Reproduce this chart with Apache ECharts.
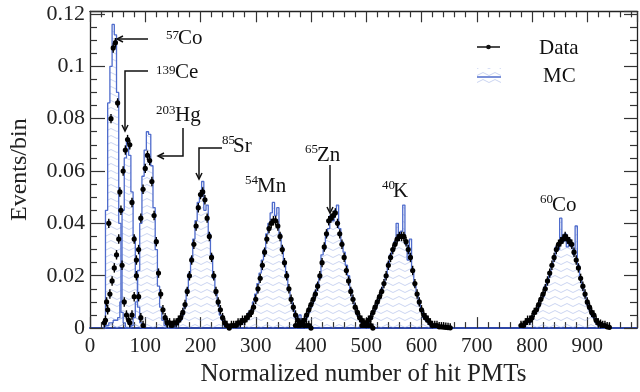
<!DOCTYPE html>
<html><head><meta charset="utf-8">
<script src="https://cdn.jsdelivr.net/npm/echarts@6/dist/echarts.min.js"></script>
<style>html,body{margin:0;padding:0;background:#fff}#c{width:640px;height:392px}</style>
</head><body><div id="c"></div>
<script>
// ---------- data (bin centers, Data and MC values per source) ----------
const xCo57 = [26,30,34,38,42,46,50,54,58,62,66,70];
const dataCo57 = [0.002,0.010,0.040,0.080,0.107,0.109,0.086,0.052,0.024,0.010,0.005,0.003];
const mcCo57   = [0.000,0.045,0.086,0.100,0.116,0.112,0.090,0.040,0.006,0.002,0.000,0.000];

const xCe139 = [28,32,36,40,44,48,52,56,60,64,68,72,76,80,84,88,92,96];
const dataCe139 = [0.003,0.007,0.013,0.018,0.023,0.028,0.034,0.045,0.060,0.068,0.072,0.070,0.048,0.034,0.026,0.012,0.004,0.001];
const mcCe139   = [0.001,0.001,0.002,0.002,0.003,0.003,0.004,0.010,0.045,0.065,0.072,0.066,0.052,0.035,0.020,0.008,0.002,0.000];

const xHg203 = [72,76,80,84,88,92,96,100,104,108,112,116,120,124,128,132,136,140];
const dataHg203 = [0.002,0.005,0.012,0.020,0.030,0.042,0.053,0.061,0.066,0.064,0.056,0.043,0.033,0.021,0.013,0.007,0.004,0.002];
const mcHg203   = [0.000,0.001,0.004,0.010,0.022,0.040,0.058,0.068,0.075,0.074,0.062,0.046,0.030,0.016,0.008,0.003,0.001,0.000];

const xSr85 = [140,144,148,152,156,160,164,168,172,176,180,184,188,192,196,200,204,208,212,216,220,224,228,232,236,240,244,248,252];
const dataSr85 = [0.002,0.002,0.001,0.002,0.002,0.003,0.004,0.006,0.009,0.014,0.020,0.026,0.032,0.039,0.046,0.051,0.052,0.049,0.042,0.035,0.027,0.020,0.014,0.010,0.007,0.004,0.002,0.001,0.000];
const mcSr85   = [0.000,0.000,0.000,0.000,0.001,0.002,0.003,0.005,0.008,0.015,0.021,0.027,0.034,0.041,0.048,0.050,0.056,0.045,0.047,0.036,0.028,0.019,0.013,0.009,0.005,0.003,0.001,0.000,0.000];

const xMn54 = [256,260,264,268,272,276,280,284,288,292,296,300,304,308,312,316,320,324,328,332,336,340,344,348,352,356,360,364,368,372,376,380,384,388,392,396,400];
const dataMn54 = [0.001,0.001,0.001,0.002,0.002,0.003,0.003,0.004,0.005,0.006,0.008,0.011,0.015,0.019,0.024,0.029,0.034,0.038,0.040,0.041,0.041,0.039,0.035,0.030,0.025,0.020,0.015,0.011,0.008,0.005,0.003,0.002,0.002,0.001,0.001,0.001,0.000];
const mcMn54   = [0.000,0.000,0.001,0.001,0.002,0.002,0.003,0.004,0.006,0.007,0.010,0.013,0.017,0.021,0.026,0.030,0.036,0.040,0.044,0.048,0.043,0.046,0.036,0.031,0.025,0.021,0.015,0.011,0.007,0.004,0.003,0.005,0.001,0.001,0.000,0.000,0.000];

const xZn65 = [372,376,380,384,388,392,396,400,404,408,412,416,420,424,428,432,436,440,444,448,452,456,460,464,468,472,476,480,484,488,492,496,500,504,508,512];
const dataZn65 = [0.001,0.001,0.001,0.002,0.003,0.005,0.007,0.009,0.011,0.013,0.016,0.020,0.025,0.031,0.036,0.041,0.042,0.043,0.044,0.040,0.036,0.032,0.027,0.022,0.018,0.014,0.011,0.008,0.006,0.004,0.003,0.002,0.001,0.001,0.001,0.000];
const mcZn65   = [0.000,0.001,0.001,0.002,0.003,0.004,0.006,0.008,0.010,0.014,0.017,0.019,0.028,0.030,0.035,0.038,0.043,0.041,0.045,0.047,0.038,0.033,0.029,0.024,0.020,0.015,0.011,0.008,0.005,0.004,0.002,0.001,0.001,0.000,0.000,0.000];

const xK40 = [492,496,500,504,508,512,516,520,524,528,532,536,540,544,548,552,556,560,564,568,572,576,580,584,588,592,596,600,604,608,612,616,620,624,628,632,636,640,644,648,652];
const dataK40 = [0.001,0.001,0.002,0.003,0.004,0.006,0.008,0.010,0.012,0.014,0.017,0.020,0.024,0.027,0.030,0.032,0.034,0.035,0.035,0.035,0.033,0.030,0.027,0.022,0.017,0.013,0.010,0.007,0.005,0.004,0.003,0.002,0.001,0.001,0.001,0.0005,0.0005,0.0004,0.0003,0.0002,0.0001];
const mcK40   = [0.000,0.000,0.001,0.002,0.004,0.006,0.007,0.010,0.012,0.015,0.017,0.020,0.025,0.028,0.030,0.033,0.040,0.035,0.037,0.047,0.032,0.026,0.034,0.022,0.016,0.013,0.009,0.007,0.004,0.003,0.002,0.001,0.001,0.000,0.000,0.000,0.000,0.000,0.000,0.000,0.000];

const xCo60 = [780,784,788,792,796,800,804,808,812,816,820,824,828,832,836,840,844,848,852,856,860,864,868,872,876,880,884,888,892,896,900,904,908,912,916,920,924,928,932,936,940];
const dataCo60 = [0.001,0.001,0.002,0.003,0.003,0.004,0.006,0.007,0.009,0.011,0.013,0.015,0.018,0.021,0.024,0.027,0.030,0.032,0.033,0.034,0.035,0.034,0.033,0.032,0.029,0.026,0.023,0.019,0.016,0.013,0.010,0.008,0.006,0.005,0.003,0.002,0.0015,0.001,0.001,0.0005,0.0003];
const mcCo60   = [0.000,0.001,0.002,0.003,0.002,0.004,0.006,0.007,0.008,0.011,0.012,0.016,0.018,0.020,0.024,0.026,0.031,0.030,0.042,0.033,0.036,0.031,0.034,0.031,0.028,0.039,0.024,0.019,0.015,0.012,0.009,0.007,0.005,0.004,0.002,0.001,0.001,0.000,0.000,0.000,0.000];

const binWidth = 4;
const dataErr = 0.0018;
const xTicks = [0,100,200,300,400,500,600,700,800,900];
const yTicks = [0,0.02,0.04,0.06,0.08,0.1,0.12];

const sources = [
  {x:xCo57, d:dataCo57, m:mcCo57},
  {x:xCe139, d:dataCe139, m:mcCe139},
  {x:xHg203, d:dataHg203, m:mcHg203},
  {x:xSr85, d:dataSr85, m:mcSr85},
  {x:xMn54, d:dataMn54, m:mcMn54},
  {x:xZn65, d:dataZn65, m:mcZn65},
  {x:xK40, d:dataK40, m:mcK40},
  {x:xCo60, d:dataCo60, m:mcCo60}
];

// ---------- styling helpers ----------
const FONT = '"Liberation Serif", "Times New Roman", serif';
const BLUE = '#4f6ccc';
const pc = document.createElement('canvas');
pc.width = 12; pc.height = 7;
(function(){
  const ctx = pc.getContext('2d');
  ctx.strokeStyle = 'rgba(140,160,225,0.45)';
  ctx.lineWidth = 1;
  ctx.beginPath();
  ctx.moveTo(0,4); ctx.quadraticCurveTo(3,1,6,4); ctx.quadraticCurveTo(9,7,12,4);
  ctx.stroke();
})();
const hatch = {image: pc, repeat: 'repeat'};

function stepPts(xs, ys){
  const w = binWidth/2;
  const pts = [[xs[0]-w, 0]];
  xs.forEach((x,i)=>{ pts.push([x-w, ys[i]]); pts.push([x+w, ys[i]]); });
  pts.push([xs[xs.length-1]+w, 0]);
  return pts;
}

const mcSeries = sources.map(s => ({
  type:'line', data: stepPts(s.x, s.m), symbol:'none', silent:true,
  lineStyle:{color:BLUE, width:1.3}, areaStyle:{color:hatch, opacity:1}, z:2
}));

const allData = [];
sources.forEach(s => s.x.forEach((x,i) => allData.push([x, s.d[i]])));

const dataSeries = {
  type:'custom', data: allData, z:5, silent:true,
  renderItem: function(params, api){
    const x = api.value(0), y = api.value(1);
    const p = api.coord([x,y]);
    const pt = api.coord([x, y+dataErr]);
    const pb = api.coord([x, Math.max(0, y-dataErr)]);
    const pl = api.coord([x-2.2, y]);
    const pr = api.coord([x+2.2, y]);
    return {type:'group', children:[
      {type:'line', shape:{x1:p[0],y1:pt[1],x2:p[0],y2:pb[1]}, style:{stroke:'#000',lineWidth:1.4}},
      {type:'line', shape:{x1:pl[0],y1:p[1],x2:pr[0],y2:p[1]}, style:{stroke:'#000',lineWidth:1.4}},
      {type:'circle', shape:{cx:p[0],cy:p[1],r:2.6}, style:{fill:'#000'}}
    ]};
  }
};

const tickStyle = {color:'#333', width:1.2};
function xAx(pos, labels){
  return {
    type:'value', min:0, max:990, interval:100, position:pos,
    axisLine:{show:true, onZero:false, lineStyle: pos==='bottom' ? {color:'#2f47a8', width:2} : {color:'#222', width:1.3}},
    axisTick:{show:true, inside:true, length:11, lineStyle:tickStyle},
    minorTick:{show:true, splitNumber:5, length:6, lineStyle:tickStyle},
    splitLine:{show:false}, minorSplitLine:{show:false},
    axisLabel:{show:labels, fontFamily:FONT, fontSize:21, color:'#222', margin:8,
      formatter: v => xTicks.includes(v) ? String(v) : ''},
    name: labels ? 'Normalized number of hit PMTs' : '',
    nameLocation:'middle', nameGap:30,
    nameTextStyle:{fontFamily:FONT, fontSize:25, color:'#222'}
  };
}
function yAx(pos, labels){
  return {
    type:'value', min:0, max:0.121, interval:0.02, position:pos,
    axisLine:{show:true, onZero:false, lineStyle:{color:'#222', width:1.3}},
    axisTick:{show:true, inside:true, length: pos==='left' ? 15 : 13, lineStyle:tickStyle},
    minorTick:{show:true, splitNumber:4, length:7, lineStyle:tickStyle},
    splitLine:{show:false}, minorSplitLine:{show:false},
    axisLabel:{show:labels, fontFamily:FONT, fontSize:22, color:'#222', margin:5,
      formatter: v => { const r = +v.toFixed(3); return yTicks.includes(r) ? String(r) : ''; }},
    name: labels ? 'Events/bin' : '',
    nameLocation:'middle', nameGap:58, nameRotate:90,
    nameTextStyle:{fontFamily:FONT, fontSize:24, color:'#222'}
  };
}

// ---------- annotations ----------
const labels = [
  {sup:'57', main:'Co', sx:166, sy:36, mx:178, my:45},
  {sup:'139', main:'Ce', sx:156, sy:71, mx:175, my:79},
  {sup:'203', main:'Hg', sx:156, sy:111, mx:175, my:122},
  {sup:'85', main:'Sr', sx:222, sy:141, mx:233, my:153},
  {sup:'54', main:'Mn', sx:245, sy:181, mx:257, my:193},
  {sup:'65', main:'Zn', sx:305, sy:150, mx:317, my:162},
  {sup:'40', main:'K', sx:382, sy:186, mx:393, my:198},
  {sup:'60', main:'Co', sx:540, sy:200, mx:552, my:212}
];
const graphics = [];
labels.forEach(l => {
  graphics.push({type:'text', left:l.sx, top:l.sy-7, z:20,
    style:{text:l.sup, font:'13px "Liberation Serif"', fill:'#111'}});
  graphics.push({type:'text', left:l.mx, top:l.my-17, z:20,
    style:{text:l.main, font:'21px "Liberation Serif"', fill:'#111'}});
});
function pl(points){ return {type:'polyline', z:20, shape:{points}, style:{stroke:'#111', lineWidth:1.5, fill:null}}; }
function headLeft(x,y){ return pl([[x+6,y-3],[x,y],[x+6,y+3]]); }
function headDown(x,y){ return pl([[x-3,y-6],[x,y],[x+3,y-6]]); }
graphics.push(pl([[148,39],[117,39]]), headLeft(117,39));
graphics.push(pl([[148,71],[125,71],[125,131]]), headDown(125,131));
graphics.push(pl([[183,128],[183,156],[158,156]]), headLeft(158,156));
graphics.push(pl([[222,148],[199,148],[199,179]]), headDown(199,179));
graphics.push(pl([[330,165],[330,213]]), headDown(330,213));

// legend
graphics.push({type:'line', z:20, shape:{x1:477,y1:47,x2:500,y2:47}, style:{stroke:'#111', lineWidth:1.5}});
graphics.push({type:'circle', z:21, shape:{cx:488.5,cy:47,r:2.3}, style:{fill:'#111'}});
graphics.push({type:'text', left:539, top:50-12, z:20, style:{text:'Data', font:'21px "Liberation Serif"', fill:'#111'}});
graphics.push({type:'rect', z:19, shape:{x:477,y:68,width:24,height:18}, style:{fill:hatch}});
graphics.push({type:'line', z:20, shape:{x1:477,y1:77,x2:501,y2:77}, style:{stroke:BLUE, lineWidth:1.5}});
graphics.push({type:'text', left:543, top:78-12, z:20, style:{text:'MC', font:'21px "Liberation Serif"', fill:'#111'}});

const chart = echarts.init(document.getElementById('c'), null, {renderer:'canvas'});
chart.setOption({
  animation:false,
  backgroundColor:'#fff',
  textStyle:{fontFamily:FONT},
  grid:{left:85, right:1, top:11.3, bottom:58, containLabel:false},
  xAxis:[xAx('bottom', true), xAx('top', false)],
  yAxis:[yAx('left', true), yAx('right', false)],
  series:[...mcSeries, dataSeries],
  graphic: graphics
});
</script></body></html>
